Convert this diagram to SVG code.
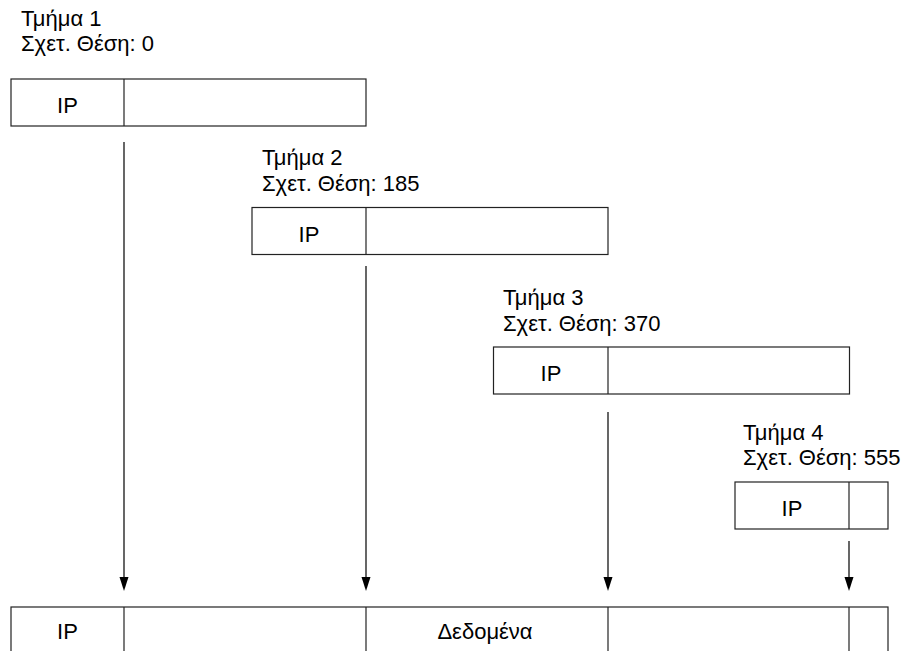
<svg xmlns="http://www.w3.org/2000/svg" width="907" height="651" viewBox="0 0 907 651">
<defs>
<style>
.box{fill:#fff;stroke:#222;stroke-width:1.2}
.div{stroke:#222;stroke-width:1.2}
.t{font-family:"Liberation Sans",Arial,sans-serif;font-size:22px;fill:#000}
.c{text-anchor:middle}
.conn{stroke:#000;stroke-width:1.2;fill:none}
.head{fill:#000}
</style>
</defs>
<rect width="907" height="651" fill="#fff"/>
<g id="connectors">
<line class="conn" x1="124" y1="142" x2="124" y2="577"/>
<path class="head" d="M119.5,577 L128.5,577 L124,591 Z"/>
<line class="conn" x1="366" y1="266" x2="366" y2="577"/>
<path class="head" d="M361.5,577 L370.5,577 L366,591 Z"/>
<line class="conn" x1="608" y1="412" x2="608" y2="577"/>
<path class="head" d="M603.5,577 L612.5,577 L608,591 Z"/>
<line class="conn" x1="849" y1="541" x2="849" y2="577"/>
<path class="head" d="M844.5,577 L853.5,577 L849,591 Z"/>
</g>
<g id="frag1">
<text class="t" x="21" y="26">Τμήμα 1</text>
<text class="t" x="21" y="51">Σχετ. Θέση: 0</text>
<rect class="box" x="11" y="79" width="355" height="47"/>
<line class="div" x1="124" y1="79" x2="124" y2="126"/>
<text class="t c" x="67.5" y="113">IP</text>
</g>
<g id="frag2">
<text class="t" x="262" y="165">Τμήμα 2</text>
<text class="t" x="262" y="191">Σχετ. Θέση: 185</text>
<rect class="box" x="252" y="207.5" width="356" height="47"/>
<line class="div" x1="366" y1="207.5" x2="366" y2="254.5"/>
<text class="t c" x="309" y="242">IP</text>
</g>
<g id="frag3">
<text class="t" x="503" y="305">Τμήμα 3</text>
<text class="t" x="503" y="331">Σχετ. Θέση: 370</text>
<rect class="box" x="493.5" y="347" width="356" height="47"/>
<line class="div" x1="608" y1="347" x2="608" y2="394"/>
<text class="t c" x="551" y="381">IP</text>
</g>
<g id="frag4">
<text class="t" x="743" y="440">Τμήμα 4</text>
<text class="t" x="743" y="465">Σχετ. Θέση: 555</text>
<rect class="box" x="735" y="482" width="153" height="47"/>
<line class="div" x1="849" y1="482" x2="849" y2="529"/>
<text class="t c" x="792" y="516">IP</text>
</g>
<g id="datagram">
<rect class="box" x="11" y="607" width="877" height="60"/>
<line class="div" x1="124" y1="607" x2="124" y2="651"/>
<line class="div" x1="366" y1="607" x2="366" y2="651"/>
<line class="div" x1="608" y1="607" x2="608" y2="651"/>
<line class="div" x1="849" y1="607" x2="849" y2="651"/>
<text class="t c" x="67.5" y="639">IP</text>
<text class="t c" x="485" y="639">Δεδομένα</text>
</g>
</svg>
